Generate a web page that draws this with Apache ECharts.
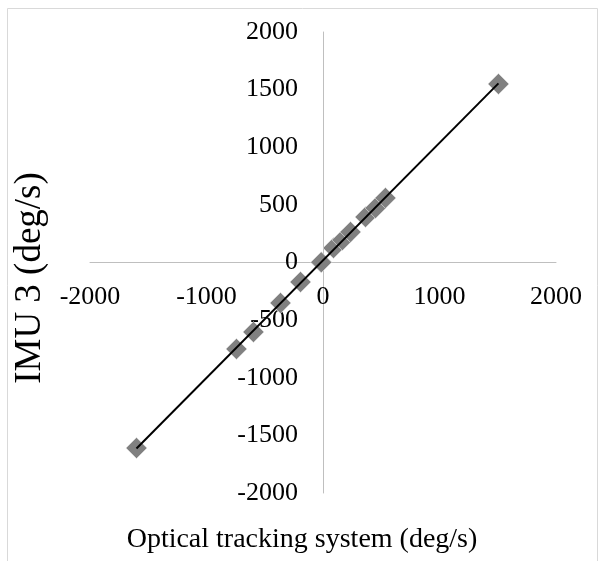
<!DOCTYPE html>
<html>
<head>
<meta charset="utf-8">
<script src="https://cdn.jsdelivr.net/npm/echarts@6/dist/echarts.min.js"></script>
<style>
html, body { margin: 0; padding: 0; background: #fff; }
#main { width: 602px; height: 561px; }
</style>
</head>
<body>
<div id="main"></div>
<script>
// 数据：光学跟踪系统 vs IMU 3 角速度
var opticalX = [-1601, -743, -597, -365, -193, -15, 90, 167, 236, 365, 451, 536, 1506];
var imuY = [-1610, -750, -603, -351, -169, 2, 126, 195, 265, 395, 473, 560, 1549];
var xTicks = [-2000, -1000, 0, 1000, 2000];
var yTicks = [-2000, -1500, -1000, -500, 0, 500, 1000, 1500, 2000];

var points = opticalX.map(function (x, i) { return [x, imuY[i]]; });

// 线性趋势线（最小二乘）
var n = opticalX.length, sx = 0, sy = 0, sxx = 0, sxy = 0;
for (var i = 0; i < n; i++) {
    sx += opticalX[i]; sy += imuY[i];
    sxx += opticalX[i] * opticalX[i]; sxy += opticalX[i] * imuY[i];
}
var slope = (n * sxy - sx * sy) / (n * sxx - sx * sx);
var intercept = (sy - slope * sx) / n;
var xMin = Math.min.apply(null, opticalX), xMax = Math.max.apply(null, opticalX);
var trend = [[xMin, slope * xMin + intercept], [xMax, slope * xMax + intercept]];

var font = '"Liberation Serif", "Times New Roman", serif';
var gridW = 602 - 90 - 46, gridH = 561 - 32 - 68;
var myChart = echarts.init(document.getElementById('main'));

var option = {
    backgroundColor: '#fff',
    animation: false,
    grid: { left: 90, right: 46, top: 32, bottom: 68 },
    graphic: [
        {
            type: 'rect', silent: true,
            shape: { x: 7.5, y: 8.5, width: 590, height: 570 },
            style: { fill: 'none', stroke: '#d9d9d9', lineWidth: 1 }
        },
        {
            type: 'text', x: 302, y: 526,
            style: { text: 'Optical tracking system (deg/s)', font: '28px ' + font, fill: '#000', align: 'center' }
        },
        {
            type: 'text', x: 12, y: 278, rotation: Math.PI / 2,
            style: { text: 'IMU 3 (deg/s)', font: '37px ' + font, fill: '#000', align: 'center', verticalAlign: 'top' }
        }
    ],
    xAxis: {
        type: 'value',
        min: xTicks[0], max: xTicks[xTicks.length - 1],
        interval: xTicks[1] - xTicks[0],
        offset: -gridH / 2,
        axisLine: { onZero: false, lineStyle: { color: '#bfbfbf', width: 1 } },
        axisTick: { show: false },
        splitLine: { show: false },
        axisLabel: { margin: 22, color: '#000', fontSize: 26, fontFamily: font,
            formatter: function (v) { return String(v); } }
    },
    yAxis: {
        type: 'value',
        min: yTicks[0], max: yTicks[yTicks.length - 1],
        interval: yTicks[1] - yTicks[0],
        offset: -gridW / 2,
        axisLine: { onZero: false, lineStyle: { color: '#bfbfbf', width: 1 } },
        axisTick: { show: false },
        splitLine: { show: false },
        axisLabel: { margin: 25, color: '#000', fontSize: 26, fontFamily: font,
            formatter: function (v) { return String(v); } }
    },
    series: [
        {
            type: 'scatter',
            data: points,
            symbol: 'diamond',
            symbolSize: 21,
            itemStyle: { color: '#808080', borderColor: '#e6e6e6', borderWidth: 0.6, opacity: 1 },
            z: 2
        },
        {
            type: 'line',
            data: trend,
            symbol: 'none',
            lineStyle: { color: '#000', width: 2 },
            z: 3
        }
    ]
};

myChart.setOption(option);
</script>
</body>
</html>
